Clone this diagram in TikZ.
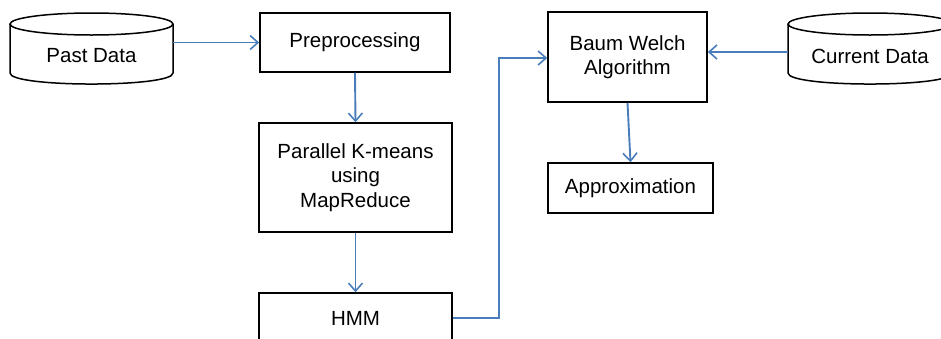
\documentclass[tikz,border=0pt]{standalone}
\usepackage{fontspec}
\setmainfont{Liberation Sans}
\usetikzlibrary{arrows.meta}
\definecolor{lineblue}{RGB}{74,126,187}
\begin{document}
\begin{tikzpicture}[x=1pt,y=-1pt,
 txt/.style={inner sep=0pt, align=center, font=\fontsize{20.5}{24.5}\selectfont},
 box/.style={txt, draw=black, line width=1.5pt, rectangle},
 conn/.style={draw=lineblue, line width=1.9pt, -{Straight Barb[length=8pt,width=14pt,line width=1.6pt]}},
 db/.style={draw=black, line width=1.5pt}
]
\useasboundingbox (0,0) rectangle (941,338);
\clip (0,0) rectangle (941,338);
% cylinders
\draw[db] (10,24) -- (10,73) .. controls (10,87.7) and (173,87.7) .. (173,73) -- (173,24);
\draw[db] (91.5,24) ellipse [x radius=81.5pt, y radius=11pt];
\node[txt, minimum width=163pt, minimum height=40pt] (pd) at (91.5,56) {Past Data};
\draw[db] (788,24) -- (788,73) .. controls (788,87.7) and (952,87.7) .. (952,73) -- (952,24);
\draw[db] (870,24) ellipse [x radius=82pt, y radius=11pt];
\node[txt, minimum width=164pt, minimum height=40pt] (cd) at (870,56) {Current Data};
% boxes
\node[box, minimum width=190pt, minimum height=59pt] (pre) at (355,42.5) {Preprocessing};
\node[box, minimum width=193pt, minimum height=109pt] (par) at (355.5,177.5) {Parallel K-means\\using\\MapReduce};
\node[box, minimum width=193pt, minimum height=50pt] (hmm) at (355.5,318) {HMM};
\node[box, minimum width=159pt, minimum height=90pt] (bw) at (627.5,57) {Baum Welch\\Algorithm};
\node[box, minimum width=165pt, minimum height=50pt] (ap) at (630.5,188) {Approximation};
% connectors
\draw[conn] (pd.east |- pre.west) -- (pre.west);
\draw[conn] (pre.south) -- (par.north);
\draw[conn] (par.south) -- (hmm.north);
\coordinate (turn) at (499,0);
\coordinate (bwleft) at ([yshift=-1pt]bw.west);
\draw[conn] (hmm.east) -| (turn |- bwleft) -- (bwleft);
\coordinate (bwright) at ([yshift=5pt]bw.east);
\draw[conn] (cd.west |- bwright) -- (bwright);
\draw[conn] (bw.south) -- (ap.north);
\end{tikzpicture}
\end{document}
